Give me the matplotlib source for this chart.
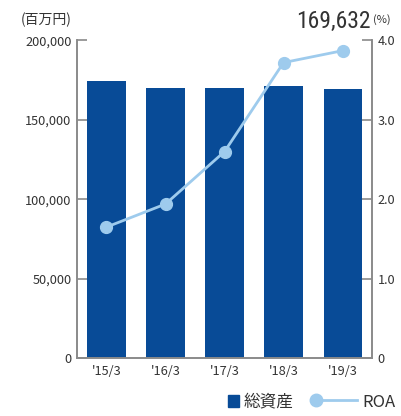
import matplotlib.pyplot as plt
from matplotlib.lines import Line2D
from matplotlib.patches import Patch, Rectangle
from matplotlib.legend_handler import HandlerLine2D, HandlerPatch
from matplotlib import font_manager

plt.rcParams['font.family'] = ['Noto Sans CJK JP', 'DejaVu Sans']

years = ["'15/3", "'16/3", "'17/3", "'18/3", "'19/3"]
assets = [174200, 170300, 169800, 171300, 169632]  # 百万円
roa = [1.65, 1.94, 2.60, 3.72, 3.87]  # %

bar_c = '#084b97'
line_c = '#9ecbed'
axis_c = '#8a8a8a'
text_c = '#333333'


class LeftMarkerLine(HandlerLine2D):
    # legend line with a single marker at its left end
    def create_artists(self, legend, orig_handle, xdescent, ydescent,
                       width, height, fontsize, trans):
        y = (height - ydescent) / 2
        line = Line2D([-xdescent + 4, -xdescent + width], [y, y])
        self.update_prop(line, orig_handle, legend)
        line.set_markevery([0])
        line.set_transform(trans)
        return [line]


def small_square(legend, orig_handle, xdescent, ydescent, width, height, fontsize):
    # square swatch pushed to the right end of the handle box
    w, h = 8.0, 9.0
    return Rectangle((-xdescent + width - w, -ydescent + (height - h) / 2), w, h)


fig = plt.figure(figsize=(4.02, 4.16), dpi=100)
ax = fig.add_axes([0.1915, 0.139, 0.734, 0.764])
ax2 = ax.twinx()

x = range(len(years))
ax.bar(x, assets, width=0.645, color=bar_c, zorder=2)
ax2.plot(x, roa, color=line_c, lw=2.0, marker='o', ms=8.5, zorder=3)

ax.set_xlim(-0.5, 4.5)
ax.set_ylim(0, 200000)
ax2.set_ylim(0, 4.0)
ax.set_yticks([0, 50000, 100000, 150000, 200000])
ax.set_yticklabels(['0', '50,000', '100,000', '150,000', '200,000'])
ax2.set_yticks([0, 1, 2, 3, 4])
ax2.set_yticklabels(['0', '1.0', '2.0', '3.0', '4.0'])
ax.set_xticks(list(x))
ax.set_xticklabels(years)

for a in (ax, ax2):
    for s in a.spines.values():
        s.set_color(axis_c)
        s.set_linewidth(1.2)
    a.spines['top'].set_visible(False)
    a.tick_params(axis='y', direction='in', length=7, width=1.2, color=axis_c,
                  labelsize=9.2, labelcolor=text_c, pad=4)
ax.tick_params(axis='x', length=0, labelsize=9.2, labelcolor=text_c, pad=5)
ax2.set_zorder(ax.get_zorder() + 1)
ax2.patch.set_visible(False)

names = {f.name for f in font_manager.fontManager.ttflist}
big_font = None
for cand in ['Liberation Sans Narrow', 'DejaVu Sans Condensed', 'Roboto Condensed',
             'Open Sans Condensed', 'Noto Sans Display']:
    if cand in names:
        big_font = cand
        break
big_kw = dict(family=[big_font]) if big_font else dict(family=['Noto Sans CJK JP'], weight='light')
big_size = 17 if big_font else 15.5

fig.text(0.052, 0.952, '(百万円)', fontsize=10, color=text_c, ha='left', va='center')
fig.text(0.928, 0.952, '(%)', fontsize=8, color=text_c, ha='left', va='center')
fig.text(0.921, 0.948, f'{assets[-1]:,}', fontsize=big_size, color=text_c,
         ha='right', va='center', **big_kw)

handles = [Patch(color=bar_c),
           Line2D([], [], color=line_c, lw=2.0, marker='o', ms=9)]
fig.legend(handles, ['総資産', 'ROA'], loc='center right', bbox_to_anchor=(1.02, 0.033),
           ncol=2, frameon=False, fontsize=12, handlelength=2.8, handletextpad=0.3,
           columnspacing=1.0, labelcolor=text_c, handleheight=0.9,
           handler_map={Line2D: LeftMarkerLine(),
                        Patch: HandlerPatch(patch_func=small_square)})

fig.savefig('out.png', dpi=100)
